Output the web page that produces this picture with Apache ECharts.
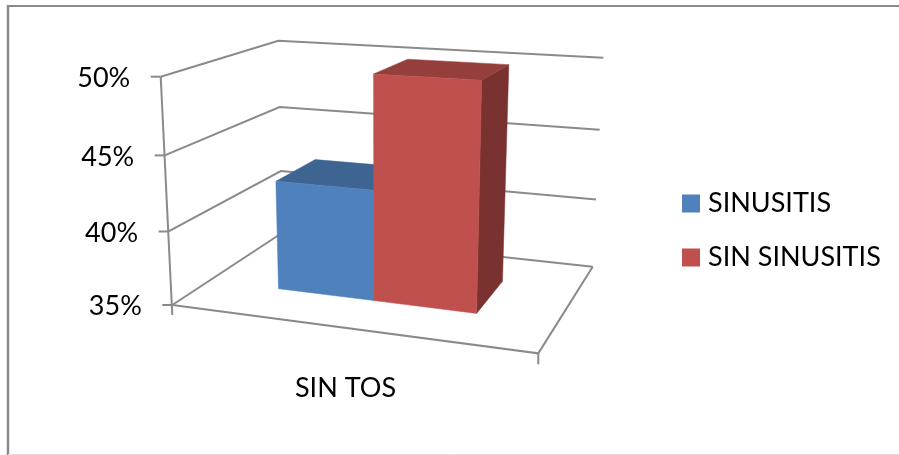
<!DOCTYPE html>
<html>
<head>
<meta charset="utf-8">
<style>html,body{margin:0;padding:0;background:#fff}#chart{width:899px;height:455px}</style>
<script src="https://cdn.jsdelivr.net/npm/echarts@6/dist/echarts.min.js"></script>
</head>
<body>
<div id="chart"></div>
<script>
// Chart data
const categories = ['SIN TOS'];
const seriesNames = ['SINUSITIS', 'SIN SINUSITIS'];
const sinusitis = [42.5];
const sinSinusitis = [50];
const valueTicks = [35, 40, 45, 50];

// Colours of the box faces: front, top, side
const blueFaces = ['#4F81BD', '#3E6491', '#345579'];
const redFaces = ['#C0504D', '#953F3C', '#7A3230'];
const frameColor = '#8A8A8A';
const FONT = 'Lato, "Open Sans", sans-serif';
const FONT_SIZE = 27;

// Screen corners of the perspective box: [u][t][w], u = left/right, t = floor/top, w = front/back
const CORNERS = {
  '000': [172.3, 305], '001': [282, 233],
  '010': [160.7, 76.7], '011': [278.3, 40.7],
  '100': [538.3, 353.3], '101': [592.7, 266.7],
  '110': [546.8, 99.3], '111': [603.3, 57.7]
};
// Foreshortening of the vertical scale
const warp = t => t * (0.949 + 0.051 * t);

function project(u, t, w) {
  const v = warp(t);
  let x = 0, y = 0;
  [0, 1].forEach(a => [0, 1].forEach(b => [0, 1].forEach(c => {
    const k = (a ? u : 1 - u) * (b ? v : 1 - v) * (c ? w : 1 - w);
    const p = CORNERS['' + a + b + c];
    x += k * p[0];
    y += k * p[1];
  })));
  return [x, y];
}

// Fraction of the value axis reached by a value, read through the cartesian scale
function heightOf(api, params, value) {
  const cs = params.coordSys;
  return (cs.y + cs.height - api.coord([0, value])[1]) / cs.height;
}

const line = pts => ({
  type: 'polyline',
  shape: { points: pts },
  style: { stroke: frameColor, lineWidth: 2, fill: null }
});

function renderFrame(params, api) {
  const value = api.value(0);
  const t = heightOf(api, params, value);
  const fl = project(0, t, 0);
  const bl = project(0, t, 1);
  const br = project(1, t, 1);
  const children = [
    line([fl, bl, br]),
    line([[fl[0] - 10, fl[1]], fl]),
    {
      type: 'text',
      style: {
        text: value + '%', x: fl[0] - 30.5, y: fl[1] + 1.5,
        align: 'right', verticalAlign: 'middle',
        font: FONT_SIZE + 'px ' + FONT, fill: '#000'
      }
    }
  ];
  if (params.dataIndex === valueTicks.length - 1) {
    // Vertical axis line along the front left edge
    children.push(line([project(0, 1, 0), [172.3, 315]]));
  }
  if (params.dataIndex === 0) {
    // Front and right edges of the floor, with the end tick
    const fr = project(1, t, 0);
    children.push(line([fl, fr, br]));
    children.push(line([fr, [fr[0], fr[1] + 11]]));
  }
  return { type: 'group', children };
}

function boxRenderer(u0, u1, faces) {
  const W0 = 0.345, W1 = 0.73;
  return function (params, api) {
    const t = heightOf(api, params, api.value(1));
    const poly = (pts, fill) => ({
      type: 'polygon',
      shape: { points: pts },
      style: { fill, stroke: fill, lineWidth: 0.5 }
    });
    return {
      type: 'group',
      children: [
        poly([project(u1, 0, W0), project(u1, 0, W1), project(u1, t, W1), project(u1, t, W0)], faces[2]),
        poly([project(u0, t, W0), project(u0, t, W1), project(u1, t, W1), project(u1, t, W0)], faces[1]),
        poly([project(u0, 0, W0), project(u1, 0, W0), project(u1, t, W0), project(u0, t, W0)], faces[0])
      ]
    };
  };
}

const chart = echarts.init(document.getElementById('chart'), null, { renderer: 'canvas' });
chart.setOption({
  backgroundColor: '#fff',
  animation: false,
  grid: { left: 172.3, top: 76.7, width: 346.4, height: 228.3 },
  xAxis: {
    type: 'category',
    data: categories,
    axisLine: { show: false },
    axisTick: { show: false },
    axisLabel: { margin: 70, fontFamily: FONT, fontSize: FONT_SIZE, color: '#000' }
  },
  yAxis: {
    type: 'value',
    min: 35,
    max: 50,
    interval: 5,
    axisLine: { show: false },
    axisTick: { show: false },
    axisLabel: { show: false },
    splitLine: { show: false }
  },
  legend: {
    orient: 'vertical',
    left: 682,
    top: 190,
    padding: 0,
    itemWidth: 18,
    itemHeight: 18,
    itemGap: 27,
    icon: 'rect',
    data: seriesNames,
    textStyle: { fontFamily: FONT, fontSize: FONT_SIZE, color: '#000', padding: [0, 0, 0, 3] }
  },
  graphic: [
    { type: 'line', shape: { x1: 8, y1: 6, x2: 899, y2: 6 }, style: { stroke: frameColor, lineWidth: 2 } },
    { type: 'line', shape: { x1: 8, y1: 5, x2: 8, y2: 455 }, style: { stroke: frameColor, lineWidth: 2.5 } },
    { type: 'line', shape: { x1: 8, y1: 454.5, x2: 899, y2: 454.5 }, style: { stroke: '#DDDDDD', lineWidth: 1 } }
  ],
  series: [
    {
      type: 'custom',
      name: 'frame',
      silent: true,
      renderItem: renderFrame,
      encode: { y: 0 },
      data: valueTicks.map(v => [v]),
      z: 1
    },
    {
      type: 'custom',
      name: seriesNames[0],
      itemStyle: { color: blueFaces[0] },
      renderItem: boxRenderer(0.197, 0.472, blueFaces),
      encode: { x: 0, y: 1 },
      data: sinusitis.map((v, i) => [i, v]),
      z: 2
    },
    {
      type: 'custom',
      name: seriesNames[1],
      itemStyle: { color: redFaces[0] },
      renderItem: boxRenderer(0.472, 0.768, redFaces),
      encode: { x: 0, y: 1 },
      data: sinSinusitis.map((v, i) => [i, v]),
      z: 3
    }
  ]
});
</script>
</body>
</html>
